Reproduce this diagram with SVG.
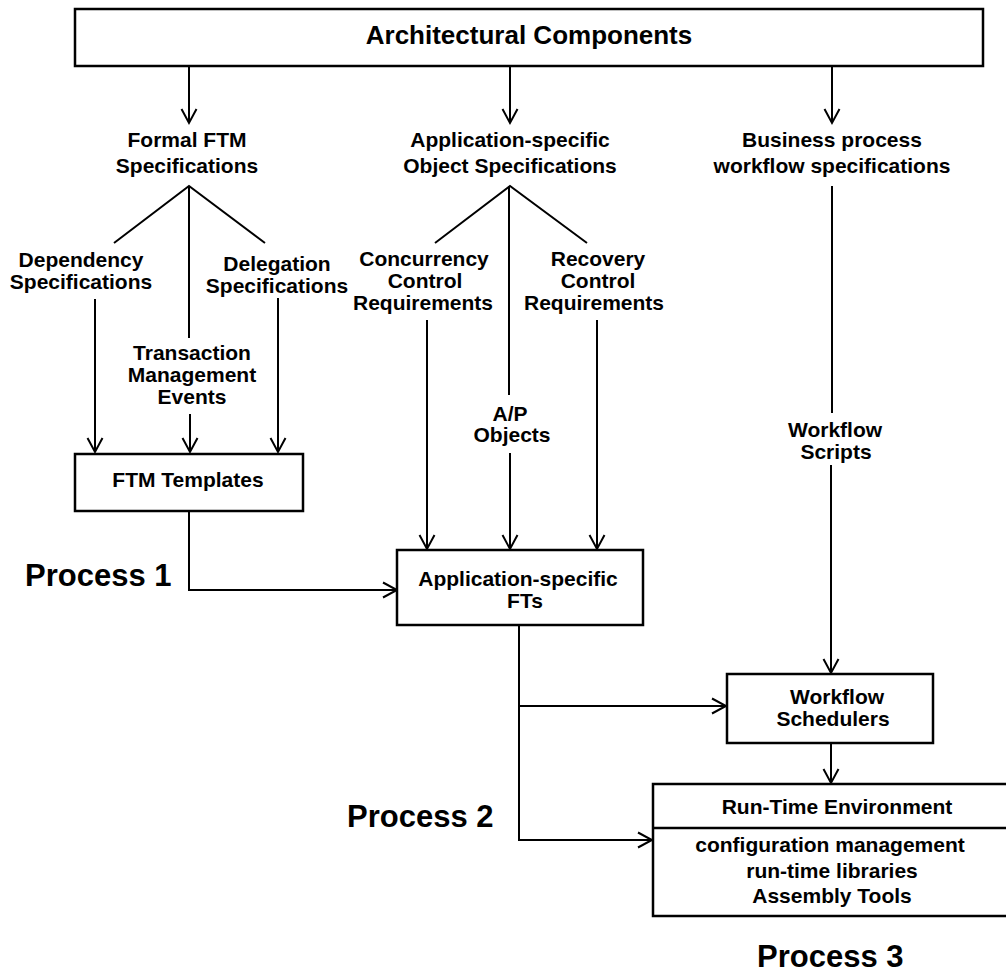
<svg xmlns="http://www.w3.org/2000/svg" width="1006" height="972" viewBox="0 0 1006 972">
<style>
.box{fill:#fff;stroke:#000;stroke-width:2.5}
.ln{fill:none;stroke:#000;stroke-width:2}
.t{font-family:"Liberation Sans",Arial,sans-serif;font-weight:bold;font-size:21px;fill:#000;text-anchor:middle}
.s{font-size:20px}
.title{font-size:26px}
.proc{font-family:"Liberation Sans",Arial,sans-serif;font-weight:bold;font-size:31px;fill:#000}
</style>
<defs>
<marker id="arr" markerUnits="userSpaceOnUse" markerWidth="20" markerHeight="20" viewBox="-16 -10 20 20" refX="0" refY="0" orient="auto">
<path d="M-14,-7.5 L0,0 L-14,7.5" fill="none" stroke="#000" stroke-width="2"/>
</marker>
</defs>
<rect width="1006" height="972" fill="#fff"/>

<g id="connectors">
<line class="ln" x1="189" y1="66" x2="189" y2="123" marker-end="url(#arr)"/>
<line class="ln" x1="510" y1="66" x2="510" y2="123" marker-end="url(#arr)"/>
<line class="ln" x1="832" y1="66" x2="832" y2="123" marker-end="url(#arr)"/>
<polyline class="ln" points="114,243 189,186 265,243"/>
<line class="ln" x1="189" y1="186" x2="189" y2="338"/>
<line class="ln" x1="95" y1="299" x2="95" y2="452" marker-end="url(#arr)"/>
<line class="ln" x1="190" y1="414" x2="190" y2="452" marker-end="url(#arr)"/>
<line class="ln" x1="278" y1="298" x2="278" y2="452" marker-end="url(#arr)"/>
<polyline class="ln" points="435,243 510,186 587,243"/>
<line class="ln" x1="509" y1="186" x2="509" y2="395"/>
<line class="ln" x1="427" y1="320" x2="427" y2="549" marker-end="url(#arr)"/>
<line class="ln" x1="510" y1="453" x2="510" y2="549" marker-end="url(#arr)"/>
<line class="ln" x1="597" y1="320" x2="597" y2="549" marker-end="url(#arr)"/>
<line class="ln" x1="832" y1="186" x2="832" y2="413"/>
<line class="ln" x1="831" y1="465" x2="831" y2="673" marker-end="url(#arr)"/>
<polyline class="ln" points="189,511 189,590 397,590" marker-end="url(#arr)"/>
<polyline class="ln" points="519,625 519,840 652,840" marker-end="url(#arr)"/>
<line class="ln" x1="519" y1="706" x2="726" y2="706" marker-end="url(#arr)"/>
<line class="ln" x1="831" y1="743" x2="831" y2="783" marker-end="url(#arr)"/>
</g>

<g id="architectural-components">
<rect class="box" x="75" y="9" width="908" height="57"/>
<text class="t title" x="529" y="44">Architectural Components</text>
</g>

<g id="formal-ftm-specifications">
<text class="t" x="187" y="147">Formal FTM</text>
<text class="t" x="187" y="173">Specifications</text>
</g>

<g id="application-object-specifications">
<text class="t" x="510" y="147">Application-specific</text>
<text class="t" x="510" y="173">Object Specifications</text>
</g>

<g id="business-process-specifications">
<text class="t" x="832" y="147">Business process</text>
<text class="t" x="832" y="173">workflow specifications</text>
</g>

<g id="dependency-specifications">
<text class="t" x="81" y="267">Dependency</text>
<text class="t" x="81" y="289">Specifications</text>
</g>

<g id="delegation-specifications">
<text class="t" x="277" y="271">Delegation</text>
<text class="t" x="277" y="293">Specifications</text>
</g>

<g id="transaction-management-events">
<text class="t" x="192" y="360">Transaction</text>
<text class="t" x="192" y="382">Management</text>
<text class="t" x="192" y="404">Events</text>
</g>

<g id="concurrency-control-requirements">
<text class="t" x="424" y="266">Concurrency</text>
<text class="t" x="425" y="288">Control</text>
<text class="t" x="423" y="310">Requirements</text>
</g>

<g id="recovery-control-requirements">
<text class="t" x="598" y="266">Recovery</text>
<text class="t" x="598" y="288">Control</text>
<text class="t" x="594" y="310">Requirements</text>
</g>

<g id="ap-objects">
<text class="t" x="510" y="421">A/P</text>
<text class="t" x="512" y="442">Objects</text>
</g>

<g id="workflow-scripts">
<text class="t" x="835" y="437">Workflow</text>
<text class="t" x="836" y="459">Scripts</text>
</g>

<g id="ftm-templates">
<rect class="box" x="75" y="454" width="228" height="57"/>
<text class="t" x="188" y="487">FTM Templates</text>
</g>

<g id="application-specific-fts">
<rect class="box" x="397" y="550" width="246" height="75"/>
<text class="t" x="518" y="586">Application-specific</text>
<text class="t" x="525" y="608">FTs</text>
</g>

<g id="workflow-schedulers">
<rect class="box" x="727" y="674" width="206" height="69"/>
<text class="t" x="837" y="704">Workflow</text>
<text class="t" x="833" y="726">Schedulers</text>
</g>

<g id="run-time-environment">
<rect class="box" x="653" y="784" width="360" height="132"/>
<line class="ln" x1="653" y1="828" x2="1013" y2="828" style="stroke-width:2.5"/>
<text class="t" x="837" y="814">Run-Time Environment</text>
<text class="t" x="830" y="852">configuration management</text>
<text class="t" x="832" y="878">run-time libraries</text>
<text class="t" x="832" y="903">Assembly Tools</text>
</g>

<g id="process-labels">
<text class="proc" x="25" y="586">Process 1</text>
<text class="proc" x="347" y="827">Process 2</text>
<text class="proc" x="757" y="967">Process 3</text>
</g>
</svg>
